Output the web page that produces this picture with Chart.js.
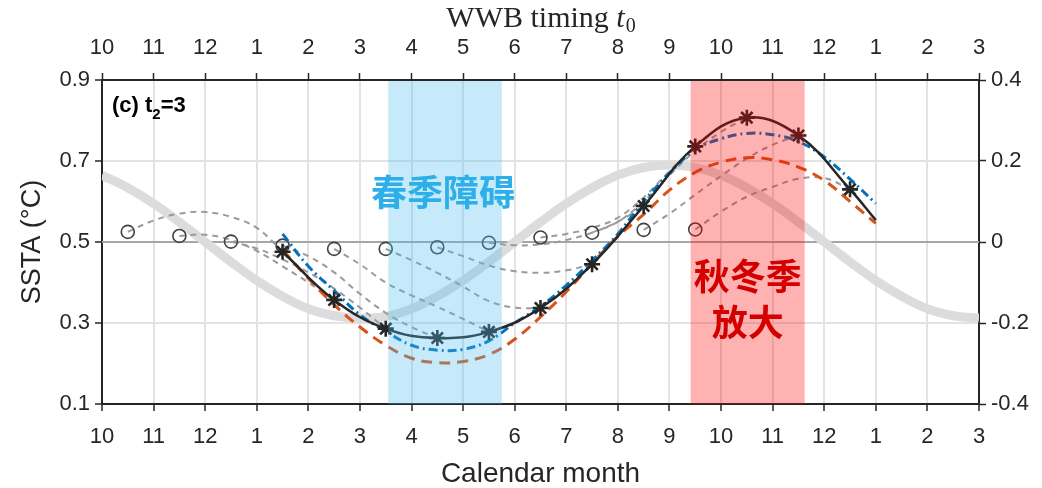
<!DOCTYPE html>
<html>
<head>
<meta charset="utf-8">
<script src="https://cdn.jsdelivr.net/npm/chart.js@4.4.0/dist/chart.umd.min.js"></script>
<style>
  html, body { margin: 0; padding: 0; background: #fff; }
  #wrap { width: 1042px; height: 488px; position: relative; }
</style>
</head>
<body>
<div id="wrap"><canvas id="ssta"></canvas></div>
<script>
// month axis (index 0 = Oct ... 17 = Mar of following year)
const monthTicks = [0, 1, 2, 3, 4, 5, 6, 7, 8, 9, 10, 11, 12, 13, 14, 15, 16, 17];
const monthLabels = ['10', '11', '12', '1', '2', '3', '4', '5', '6', '7', '8', '9', '10', '11', '12', '1', '2', '3'];
const leftTicks = [0.1, 0.3, 0.5, 0.7, 0.9];
const rightTicks = [-0.4, -0.2, 0, 0.2, 0.4];
const refLevel = 0.5;

// thick grey climatological curve
const climX = [0, 0.5, 1, 1.5, 2, 2.5, 3, 3.5, 4, 4.5, 5, 5.5, 6, 6.5, 7, 7.5, 8, 8.5, 9, 9.5,
               10, 10.5, 11, 11.5, 12, 12.5, 13, 13.5, 14, 14.5, 15, 15.5, 16, 16.5, 17];
const climSSTA = [0.665, 0.634, 0.595, 0.549, 0.500, 0.451, 0.405, 0.366, 0.335, 0.318, 0.312, 0.316,
                  0.335, 0.366, 0.405, 0.451, 0.500, 0.549, 0.595, 0.634, 0.665, 0.684, 0.690, 0.684,
                  0.665, 0.634, 0.595, 0.549, 0.500, 0.451, 0.405, 0.366, 0.335, 0.318, 0.312];

// WWB timing circles
const wwbX = [0.5, 1.5, 2.5, 3.5, 4.5, 5.5, 6.5, 7.5, 8.5, 9.5, 10.5, 11.5];
const wwbSSTA = [0.525, 0.515, 0.501, 0.491, 0.483, 0.483, 0.487, 0.498, 0.511, 0.523, 0.530, 0.531];

// response at t2 = 3 (asterisks + black line)
const t2X = [3.5, 4.5, 5.5, 6.5, 7.5, 8.5, 9.5, 10.5, 11.5, 12.5, 13.5, 14.5];
const t2SSTA = [0.476, 0.357, 0.286, 0.263, 0.278, 0.337, 0.445, 0.589, 0.736, 0.807, 0.763, 0.630];
const blackEndX = 15;
const blackEndSSTA = 0.554;

// fitted curves
const fitX = [3.5, 4, 4.5, 5, 5.5, 6, 6.5, 7, 7.5, 8, 8.5, 9, 9.5, 10, 10.5, 11, 11.5, 12, 12.5, 13, 13.5, 14, 14.5, 15];
const blueSSTA = [0.520, 0.440, 0.380, 0.320, 0.280, 0.245, 0.233, 0.235, 0.256, 0.300, 0.341, 0.393,
                  0.454, 0.520, 0.600, 0.670, 0.728, 0.755, 0.768, 0.765, 0.748, 0.710, 0.655, 0.595];
const orangeSSTA = [0.480, 0.410, 0.345, 0.290, 0.245, 0.213, 0.202, 0.205, 0.222, 0.260, 0.315, 0.377,
                    0.447, 0.514, 0.568, 0.628, 0.672, 0.697, 0.708, 0.703, 0.685, 0.652, 0.600, 0.546];

// grey dashed 3-month trajectories, one per WWB timing (steps of half a month)
const trajStep = [0, 0.5, 1, 1.5, 2, 2.5, 3];
const traj = [
  [0.525, 0.553, 0.570, 0.574, 0.562, 0.535, 0.476],
  [0.515, 0.518, 0.505, 0.478, 0.440, 0.400, 0.357],
  [0.501, 0.484, 0.457, 0.425, 0.385, 0.338, 0.286],
  [0.491, 0.465, 0.425, 0.372, 0.325, 0.290, 0.263],
  [0.483, 0.445, 0.400, 0.368, 0.340, 0.310, 0.278],
  [0.483, 0.455, 0.424, 0.390, 0.354, 0.338, 0.337],
  [0.487, 0.465, 0.442, 0.428, 0.424, 0.430, 0.445],
  [0.498, 0.492, 0.494, 0.505, 0.523, 0.550, 0.589],
  [0.511, 0.520, 0.535, 0.560, 0.610, 0.675, 0.736],
  [0.523, 0.550, 0.600, 0.665, 0.725, 0.772, 0.807],
  [0.530, 0.570, 0.617, 0.663, 0.706, 0.740, 0.763],
  [0.531, 0.575, 0.612, 0.636, 0.656, 0.658, 0.630]
];

// shaded seasons (month index)
const springBand = [5.55, 7.75];
const autumnBand = [11.41, 13.62];

const INK = '#262626';
const FONT = "'Liberation Sans', Arial, Helvetica, sans-serif";
const SERIF = '"Liberation Serif", "Times New Roman", serif';
const CJK = "'Noto Sans CJK SC', 'Noto Sans CJK JP', sans-serif";

const pts = (xs, ys) => xs.map((x, i) => ({ x: x, y: ys[i] }));

const datasets = [];
datasets.push({
  data: pts(t2X, t2SSTA), showLine: false, order: 1,
  pointStyle: 'star', pointRadius: 8, borderColor: INK, borderWidth: 2.6
});
datasets.push({
  data: pts(t2X.concat([blackEndX]), t2SSTA.concat([blackEndSSTA])), order: 2,
  borderColor: INK, borderWidth: 2.5, pointRadius: 0, tension: 0.4
});
datasets.push({
  data: pts(fitX, blueSSTA), order: 3,
  borderColor: '#0072BD', borderWidth: 3, borderDash: [9, 4, 2, 4], pointRadius: 0, tension: 0.4
});
datasets.push({
  data: pts(fitX, orangeSSTA), order: 4,
  borderColor: '#D95319', borderWidth: 3, borderDash: [11, 7], pointRadius: 0, tension: 0.4
});
datasets.push({
  data: pts(wwbX, wwbSSTA), showLine: false, order: 5,
  pointStyle: 'circle', pointRadius: 6.5, borderColor: '#404040', borderWidth: 1.6,
  backgroundColor: 'rgba(0,0,0,0)'
});
traj.forEach((ys, k) => {
  datasets.push({
    data: pts(trajStep.map(s => wwbX[k] + s), ys), order: 6,
    borderColor: '#9a9a9a', borderWidth: 2, borderDash: [6, 5], pointRadius: 0, tension: 0.4
  });
});
datasets.push({
  data: pts(climX, climSSTA), order: 7,
  borderColor: '#dcdcdc', borderWidth: 9, pointRadius: 0, tension: 0.4
});

const decor = {
  id: 'decor',
  beforeDatasetsDraw(chart) {
    const { ctx, chartArea: a, scales: { y } } = chart;
    const yy = y.getPixelForValue(refLevel);
    ctx.save();
    ctx.strokeStyle = '#a6a6a6';
    ctx.lineWidth = 2;
    ctx.beginPath();
    ctx.moveTo(a.left, yy);
    ctx.lineTo(a.right, yy);
    ctx.stroke();
    ctx.restore();
  },
  afterDatasetsDraw(chart) {
    const { ctx, chartArea: a, scales: { x } } = chart;
    ctx.save();
    const band = (r, color) => {
      const x0 = x.getPixelForValue(r[0]);
      const x1 = x.getPixelForValue(r[1]);
      ctx.fillStyle = color;
      ctx.fillRect(x0, a.top + 1, x1 - x0, a.bottom - a.top - 1);
    };
    band(springBand, 'rgba(77, 190, 238, 0.32)');
    band(autumnBand, 'rgba(255, 0, 0, 0.3)');

    ctx.textAlign = 'center';
    ctx.textBaseline = 'middle';
    ctx.font = 'bold 36px ' + CJK;
    ctx.fillStyle = '#2db0ea';
    ctx.fillText('春季障碍', (x.getPixelForValue(springBand[0]) + x.getPixelForValue(springBand[1])) / 2 - 2, 192);
    ctx.fillStyle = '#d40000';
    const cx = (x.getPixelForValue(autumnBand[0]) + x.getPixelForValue(autumnBand[1])) / 2;
    ctx.fillText('秋冬季', cx, 276);
    ctx.fillText('放大', cx, 322);
    ctx.restore();
  },
  afterDraw(chart) {
    const { ctx, chartArea: a } = chart;
    const mid = (a.left + a.right) / 2;
    ctx.save();

    // panel label (c) t2=3
    ctx.fillStyle = '#000';
    ctx.textBaseline = 'alphabetic';
    ctx.textAlign = 'left';
    let px = 112;
    ctx.font = 'bold 22px ' + FONT;
    ctx.fillText('(c) t', px, 112);
    px += ctx.measureText('(c) t').width;
    ctx.font = 'bold 15px ' + FONT;
    ctx.fillText('2', px, 119);
    px += ctx.measureText('2').width;
    ctx.font = 'bold 22px ' + FONT;
    ctx.fillText('=3', px, 112);

    // bottom axis title
    ctx.fillStyle = INK;
    ctx.textAlign = 'center';
    ctx.font = '28px ' + FONT;
    ctx.fillText('Calendar month', mid, 482);

    // left axis title
    ctx.save();
    ctx.translate(40, (a.top + a.bottom) / 2);
    ctx.rotate(-Math.PI / 2);
    ctx.font = '27px ' + FONT;
    ctx.fillText('SSTA (°C)', 0, 0);
    ctx.restore();

    // top axis title: WWB timing t0
    ctx.textAlign = 'left';
    const part1 = 'WWB timing ';
    ctx.font = '30px ' + SERIF;
    const w1 = ctx.measureText(part1).width;
    ctx.font = 'italic 30px ' + SERIF;
    const w2 = ctx.measureText('t').width;
    ctx.font = '20px ' + SERIF;
    const w3 = ctx.measureText('0').width;
    let tx = mid - (w1 + w2 + w3) / 2;
    ctx.font = '30px ' + SERIF;
    ctx.fillText(part1, tx, 27);
    tx += w1;
    ctx.font = 'italic 30px ' + SERIF;
    ctx.fillText('t', tx, 27);
    tx += w2;
    ctx.font = '20px ' + SERIF;
    ctx.fillText('0', tx + 1, 32);
    ctx.restore();
  }
};

const monthTickOpts = {
  callback: (v, i) => monthLabels[i],
  font: { size: 22, family: FONT },
  color: INK,
  maxRotation: 0,
  autoSkip: false
};

new Chart(document.getElementById('ssta'), {
  type: 'line',
  data: { datasets: datasets },
  options: {
    responsive: true,
    maintainAspectRatio: false,
    animation: false,
    devicePixelRatio: 1,
    layout: { padding: 0 },
    plugins: { legend: { display: false }, tooltip: { enabled: false } },
    scales: {
      x: {
        type: 'linear', position: 'bottom', min: 0, max: 17,
        afterBuildTicks: s => { s.ticks = monthTicks.map(v => ({ value: v })); },
        afterFit: s => { s.height = 84; },
        ticks: Object.assign({ padding: 13 }, monthTickOpts),
        grid: { color: '#e3e3e3', lineWidth: 2, tickColor: INK, tickLength: 7, tickWidth: 1.5 },
        border: { color: INK, width: 2 }
      },
      xTop: {
        type: 'linear', position: 'top', min: 0, max: 17,
        afterBuildTicks: s => { s.ticks = monthTicks.map(v => ({ value: v })); },
        afterFit: s => { s.height = 80; },
        ticks: Object.assign({ padding: 12 }, monthTickOpts),
        grid: { drawOnChartArea: false, tickColor: INK, tickLength: 7, tickWidth: 1.5 },
        border: { color: INK, width: 2 }
      },
      y: {
        position: 'left', min: 0.1, max: 0.9,
        afterBuildTicks: s => { s.ticks = leftTicks.map(v => ({ value: v })); },
        afterFit: s => { s.width = 102; },
        ticks: { callback: v => v.toFixed(1), font: { size: 22, family: FONT }, color: INK, padding: 5 },
        grid: { color: '#e3e3e3', lineWidth: 2, tickColor: INK, tickLength: 7, tickWidth: 1.5 },
        border: { color: INK, width: 2 }
      },
      yRight: {
        position: 'right', min: -0.4, max: 0.4,
        afterBuildTicks: s => { s.ticks = rightTicks.map(v => ({ value: v })); },
        afterFit: s => { s.width = 63; },
        ticks: {
          callback: v => (Math.abs(v) < 1e-9 ? '0' : v.toFixed(1)),
          font: { size: 22, family: FONT }, color: INK, padding: 5
        },
        grid: { drawOnChartArea: false, tickColor: INK, tickLength: 7, tickWidth: 1.5 },
        border: { color: INK, width: 2 }
      }
    }
  },
  plugins: [decor]
});
</script>
</body>
</html>
